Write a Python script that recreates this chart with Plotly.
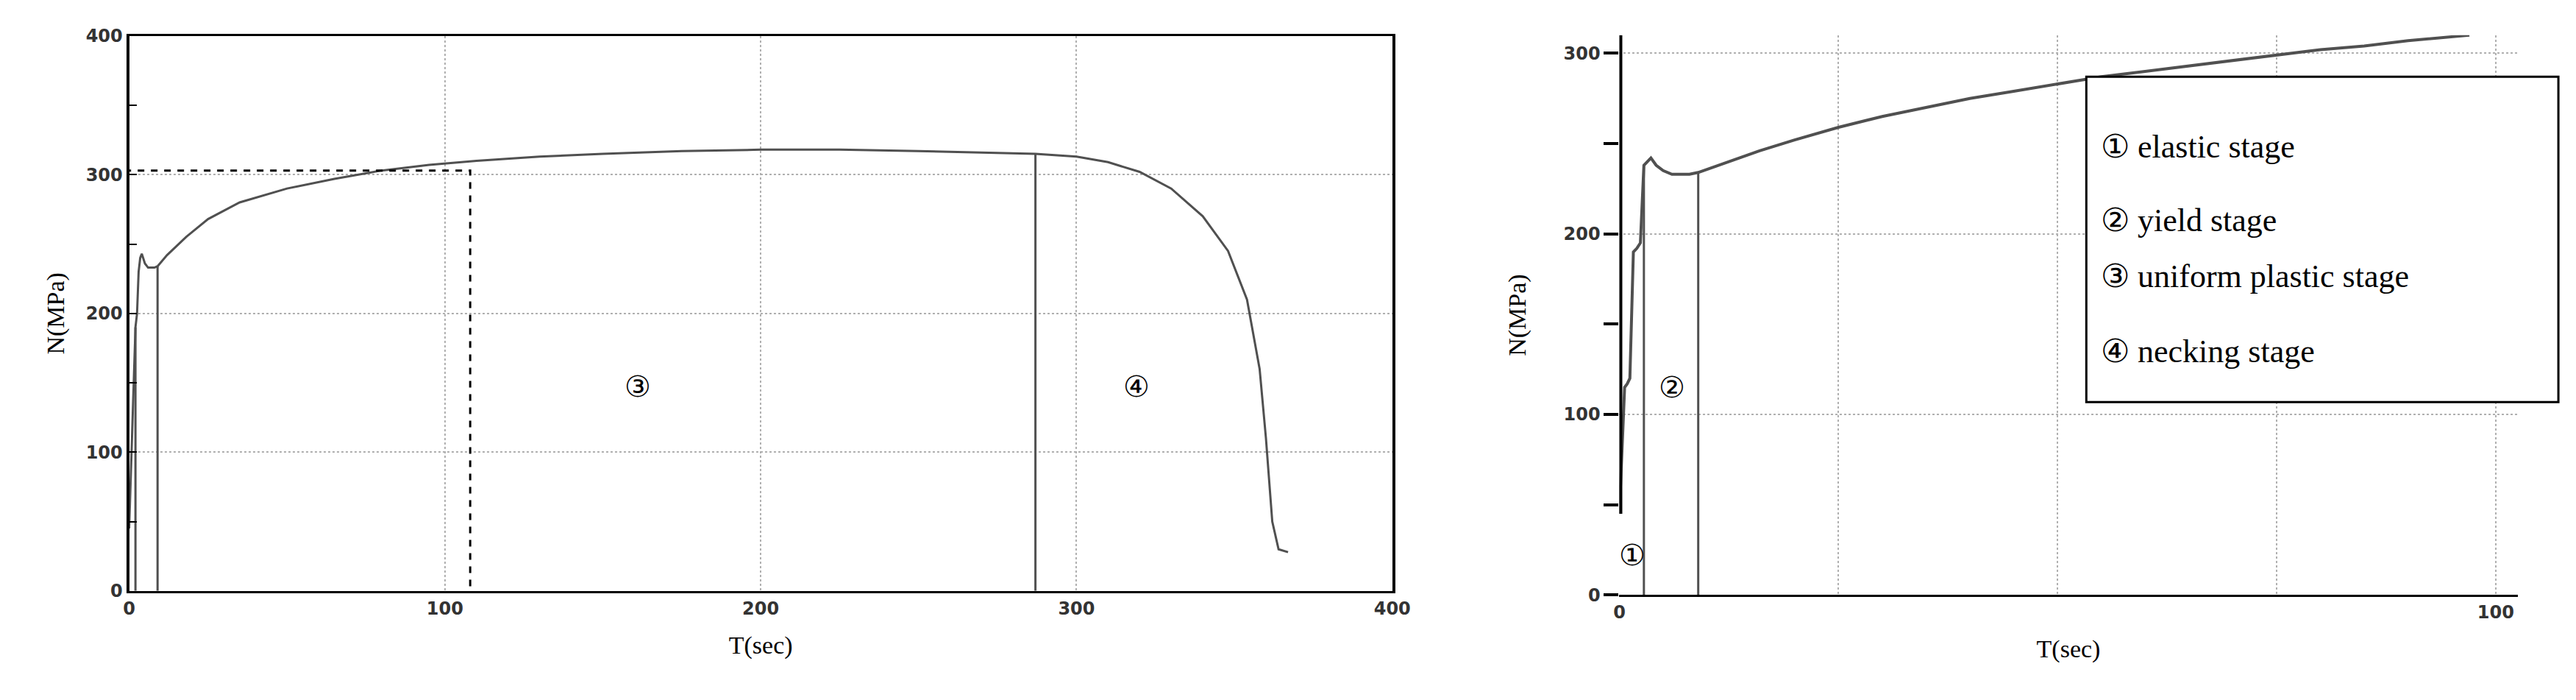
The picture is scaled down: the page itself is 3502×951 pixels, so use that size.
import plotly.graph_objects as go

# full test: time (s) vs stress (MPa)
t_full = [0, 0.5, 1, 1.5, 2, 2.5, 3, 3.5, 4, 5, 6, 8, 9, 12, 18, 25, 35, 50, 65, 80, 95, 110, 130, 150,
          175, 200, 225, 250, 270, 287, 300, 310, 320, 330, 340, 348, 354, 358, 360, 362, 364, 367]
n_full = [45, 80, 115, 150, 190, 200, 230, 240, 243, 236, 233, 233, 234, 242, 255, 268, 280, 290, 297, 303,
          307, 310, 313, 315, 317, 318, 318, 317, 316, 315, 313, 309, 302, 290, 270, 245, 210, 160, 110, 50, 30, 28]
divide_full = [2, 9, 287]
zoom_box = [-2, 108, -4, 303]  # t0, t1, n0, n1 of the dashed region

# zoomed first 100 s
t_zoom = [0, 0.3, 0.6, 0.9, 1.2, 1.6, 2.0, 2.4, 2.8, 3.2, 3.6, 4.2, 5, 6, 7, 8, 9, 12, 16, 20, 25, 30,
          35, 40, 45, 50, 55, 60, 65, 70, 75, 80, 85, 90, 97]
n_zoom = [45, 80, 115, 117, 120, 190, 192, 195, 238, 240, 242, 238, 235, 233, 233, 233, 234, 239, 246, 252,
          259, 265, 270, 275, 279, 283, 287, 290, 293, 296, 299, 302, 304, 307, 310]
divide_zoom = [2.8, 9]

stages = ["① elastic stage", "② yield stage", "③ uniform plastic stage", "④ necking stage"]

grey = "#505050"
tickfont = dict(family="DejaVu Sans", size=24, color="#333", weight="bold")
titlefont = dict(family="Liberation Serif", size=34, color="black")

fig = go.Figure()
fig.add_trace(go.Scatter(x=t_full, y=n_full, mode="lines", line=dict(color=grey, width=3),
                         xaxis="x", yaxis="y", showlegend=False))
for d in divide_full:
    top = n_full[min(range(len(t_full)), key=lambda i: abs(t_full[i] - d))]
    fig.add_trace(go.Scatter(x=[d, d], y=[0, top], mode="lines", line=dict(color=grey, width=3),
                             xaxis="x", yaxis="y", showlegend=False))
fig.add_shape(type="rect", xref="x", yref="y", x0=zoom_box[0], x1=zoom_box[1], y0=zoom_box[2],
              y1=zoom_box[3], line=dict(color="black", width=3, dash="dash"), layer="above")

fig.add_trace(go.Scatter(x=t_zoom, y=n_zoom, mode="lines", line=dict(color=grey, width=4),
                         xaxis="x2", yaxis="y2", showlegend=False))
for d in divide_zoom:
    top = n_zoom[min(range(len(t_zoom)), key=lambda i: abs(t_zoom[i] - d))]
    fig.add_trace(go.Scatter(x=[d, d], y=[0, top], mode="lines", line=dict(color=grey, width=3),
                             xaxis="x2", yaxis="y2", showlegend=False))
fig.add_trace(go.Scatter(x=[0, 0], y=[45, 310], mode="lines", line=dict(color="black", width=8),
                         xaxis="x2", yaxis="y2", showlegend=False))

grid = dict(showgrid=True, gridcolor="#b0b0b0", griddash="dot", gridwidth=2, zeroline=False)
fig.update_layout(
    width=3502, height=951, paper_bgcolor="white", plot_bgcolor="white",
    margin=dict(l=0, r=0, t=0, b=0),
    xaxis=dict(domain=[0.046, 0.541], range=[0, 400], tickvals=[0, 100, 200, 300, 400],
               showline=True, linecolor="black", linewidth=3, mirror=True, ticks="",
               tickfont=tickfont, title=dict(text="T(sec)", font=titlefont, standoff=25),
               anchor="y", **grid),
    yaxis=dict(domain=[0.154, 0.971], range=[0, 400], tickvals=[0, 100, 200, 300, 400],
               showline=True, linecolor="black", linewidth=4, mirror=True, ticks="inside",
               ticklen=10, tickwidth=2, tickcolor="black",
               minor=dict(tickvals=[50, 150, 250, 350], ticks="inside", ticklen=10, tickwidth=2,
                          tickcolor="black", showgrid=False),
               tickfont=tickfont, title=dict(text="N(MPa)", font=titlefont, standoff=20),
               anchor="x", **grid),
    xaxis2=dict(domain=[0.630, 0.982], range=[0, 102.5], tickvals=[0, 25, 50, 75, 100],
                ticktext=["0", "", "", "", "100"],
                showline=True, linecolor="black", linewidth=3, ticks="",
                tickfont=tickfont, title=dict(text="T(sec)", font=titlefont, standoff=25),
                anchor="y2", **grid),
    yaxis2=dict(domain=[0.148, 0.972], range=[0, 310], tickvals=[0, 100, 200, 300],
                showline=False, ticks="outside", ticklen=20, tickwidth=4, tickcolor="black",
                minor=dict(tickvals=[50, 150, 250], ticks="outside", ticklen=20, tickwidth=4,
                           tickcolor="black", showgrid=False),
                tickfont=tickfont, title=dict(text="N(MPa)", font=titlefont, standoff=40),
                anchor="x2", **grid),
)

ann_font = dict(family="Liberation Serif", size=40, color="black")
fig.add_annotation(x=161, y=147, xref="x", yref="y", text="③", showarrow=False, font=ann_font)
fig.add_annotation(x=319, y=147, xref="x", yref="y", text="④", showarrow=False, font=ann_font)
fig.add_annotation(x=1.5, y=22, xref="x2", yref="y2", text="①", showarrow=False, font=ann_font)
fig.add_annotation(x=6, y=115, xref="x2", yref="y2", text="②", showarrow=False, font=ann_font)

# stage key box
fig.add_shape(type="rect", xref="paper", yref="paper", x0=0.813, x1=0.998, y0=0.432, y1=0.911,
              line=dict(color="black", width=3), fillcolor="white", layer="above")
for label, ypos in zip(stages, [0.836, 0.728, 0.617, 0.507]):
    fig.add_annotation(x=0.818, y=ypos, xref="paper", yref="paper", xanchor="left",
                       text=label, showarrow=False,
                       font=dict(family="Liberation Serif", size=44, color="black"))

fig.write_html("out.html")
